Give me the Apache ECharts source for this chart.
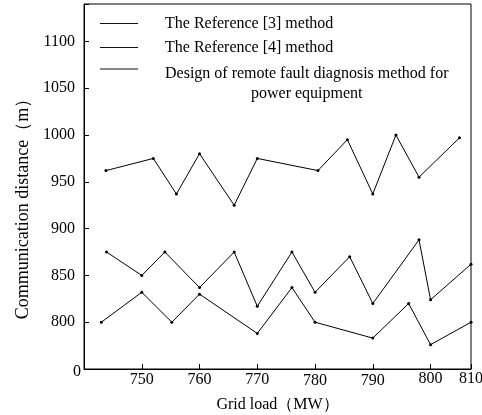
<!DOCTYPE html>
<html>
<head>
<meta charset="utf-8">
<script src="https://cdn.jsdelivr.net/npm/echarts@6/dist/echarts.min.js"></script>
<style>
  html, body { margin: 0; padding: 0; background: #fff; }
  #chart { width: 482px; height: 415px; }
</style>
</head>
<body>
<div id="chart"></div>
<script>
// Series names (legend)
const seriesNames = [
  'The Reference [3] method',
  'The Reference [4] method',
  'Design of remote fault diagnosis method for power equipment'
];

// Grid load (MW) / communication distance (m)
const ref3X = [743.8, 752, 756, 760, 766, 770, 780.5, 785.6, 790, 794, 798, 805];
const ref3Y = [962, 975, 937, 980, 925, 975, 962, 995, 937, 1000, 955, 997];

const ref4X = [743.9, 750, 754, 760, 766, 770, 776, 780, 786, 790, 798, 800, 807];
const ref4Y = [875, 850, 875, 837, 875, 817, 875, 832, 870, 820, 888, 824, 862];

const oursX = [743, 750, 755.2, 760, 770, 776, 780, 790, 796.2, 800, 807];
const oursY = [800, 832, 800, 830, 788, 837, 800, 783, 820, 776, 800];

// Axis tick labels
const xTickLabels = { 750: '750', 760: '760', 770: '770', 780: '780', 790: '790', 800: '800', 807: '810' };
const yTickLabels = { 750: '0', 800: '800', 850: '850', 900: '900', 950: '950', 1000: '1000', 1050: '1050', 1100: '1100' };

function pairs(xs, ys) { return xs.map((x, i) => [x, ys[i]]); }

const FONT = '"Liberation Serif", "Times New Roman", serif';

const chart = echarts.init(document.getElementById('chart'), null, { renderer: 'canvas' });

const lineSeries = (name, xs, ys) => ({
  name: name,
  type: 'line',
  data: pairs(xs, ys),
  symbol: 'circle',
  symbolSize: 3,
  showSymbol: true,
  lineStyle: { color: '#000', width: 1 },
  itemStyle: { color: '#000' },
  emphasis: { disabled: true },
  animation: false
});

const legendText = {
  fontFamily: FONT,
  fontSize: 16,
  color: '#000',
  rich: {
    sp: { fontSize: 10, lineHeight: 30 },
    a: { fontFamily: FONT, fontSize: 16, lineHeight: 20, color: '#000', align: 'center', padding: [0, 0, 0, 22] },
    b: { fontFamily: FONT, fontSize: 16, lineHeight: 16, color: '#000', padding: [0, 0, 0, 22] }
  }
};

const legendBase = {
  orient: 'vertical',
  left: 100,
  padding: 0,
  itemGap: 8,
  itemWidth: 38,
  itemHeight: 1,
  icon: 'rect',
  itemStyle: { color: '#111' },
  textStyle: legendText,
  formatter: function (name) {
    if (name.indexOf('Design') === 0) {
      return '{sp| }\n{a|Design of remote fault diagnosis method for}\n{a|power equipment}';
    }
    return '{b|' + name + '}';
  }
};

chart.setOption({
  animation: false,
  backgroundColor: '#fff',
  textStyle: { fontFamily: FONT },
  grid: {
    left: 84, right: 11, top: 4, bottom: 46,
    outerBoundsMode: 'none',
    containLabel: false,
    show: true, borderColor: '#000', borderWidth: 1, backgroundColor: 'transparent'
  },
  legend: [
    Object.assign({}, legendBase, { top: 15.5, data: [seriesNames[0], seriesNames[1]] }),
    Object.assign({}, legendBase, { top: 44, data: [seriesNames[2]] })
  ],
  xAxis: {
    type: 'value',
    min: 740,
    max: 807,
    interval: 10,
    name: 'Grid load（MW）',
    nameLocation: 'middle',
    nameGap: 28,
    nameTextStyle: { fontFamily: FONT, fontSize: 16, color: '#000' },
    axisLine: { show: true, lineStyle: { color: '#000', width: 1 } },
    axisTick: { show: true, inside: true, length: 5, lineStyle: { color: '#000' } },
    splitLine: { show: false },
    axisLabel: {
      fontFamily: FONT, fontSize: 16, color: '#000', margin: 2,
      showMinLabel: false,
      formatter: function (v) {
        const t = xTickLabels[Math.round(v)];
        if (!t) return '';
        if (t === '780' || t === '790') return '{d|' + t + '}';
        if (t === '800' || t === '810') return '{u|' + t + '}';
        return '{m|' + t + '}';
      },
      rich: {
        m: { fontFamily: FONT, fontSize: 16, color: '#000', lineHeight: 16, padding: [1, 0, 0, 0] },
        d: { fontFamily: FONT, fontSize: 16, color: '#000', lineHeight: 16, padding: [4, 0, 0, 0] },
        u: { fontFamily: FONT, fontSize: 16, color: '#000', lineHeight: 16, padding: [0, 0, 0, 0] }
      }
    }
  },
  yAxis: {
    type: 'value',
    min: 750,
    max: 1140,
    interval: 50,
    name: 'Communication distance（m）',
    nameLocation: 'middle',
    nameGap: 51,
    nameTextStyle: { fontFamily: FONT, fontSize: 18, color: '#000', padding: [0, 36, 0, 0] },
    axisLine: { show: true, lineStyle: { color: '#000', width: 1 } },
    axisTick: { show: true, inside: true, length: 5, lineStyle: { color: '#000' } },
    splitLine: { show: false },
    axisLabel: {
      fontFamily: FONT, fontSize: 16, color: '#000', margin: 3,
      formatter: function (v) {
        const t = yTickLabels[Math.round(v)];
        if (!t) return '';
        if (t === '0') return '{z|0}';
        return '{n|' + t + '}';
      },
      rich: {
        z: { fontFamily: FONT, fontSize: 16, color: '#000', lineHeight: 16, padding: [5, 0, 0, 0] },
        n: { fontFamily: FONT, fontSize: 16, color: '#000', lineHeight: 16, padding: [0, 6, 0, 0] }
      }
    }
  },
  series: [
    lineSeries(seriesNames[0], ref3X, ref3Y),
    lineSeries(seriesNames[1], ref4X, ref4Y),
    lineSeries(seriesNames[2], oursX, oursY)
  ]
});
</script>
</body>
</html>
